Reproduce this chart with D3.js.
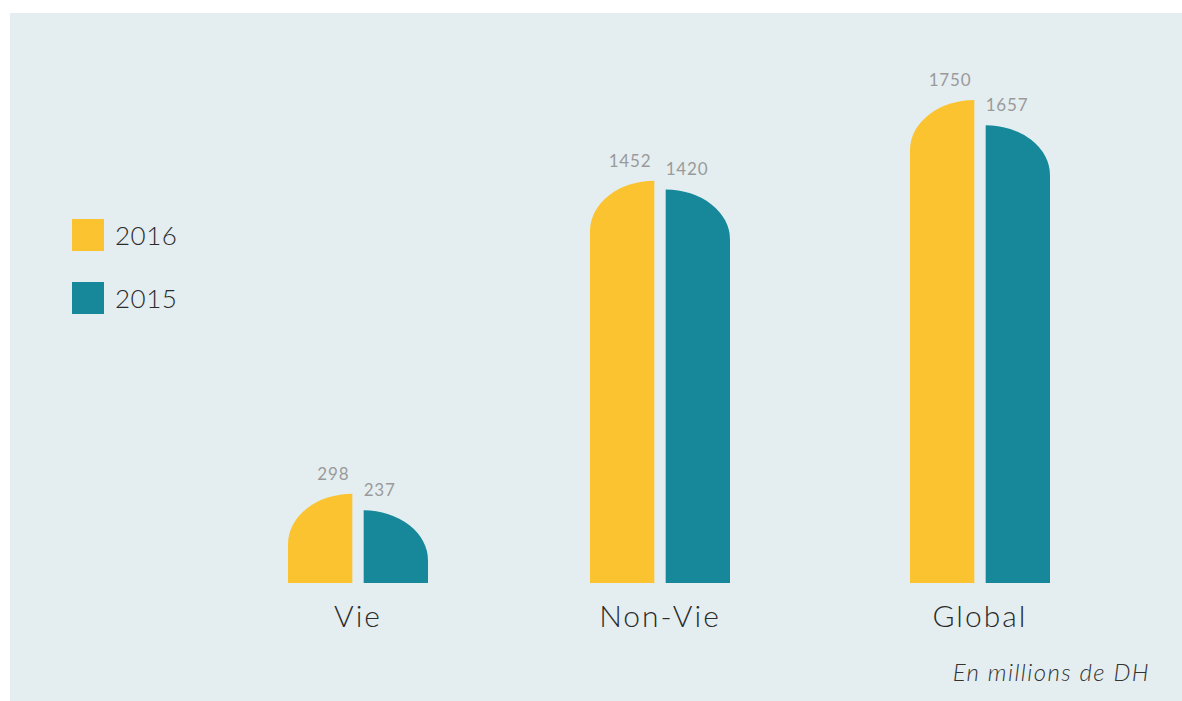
<!DOCTYPE html>
<html lang="fr">
<head>
  <meta charset="UTF-8">
  <style>
body {
    margin: 0;
    background: #fff;
    font-family: Lato, "Open Sans", sans-serif;
}

.panel {
    fill: #e4eef0;
}

.value-label {
    fill: #9a9a9a;
    font-size: 17px;
    font-weight: 400;
    letter-spacing: 0.8px;
}

.cat-label {
    fill: #2b2b2b;
    font-size: 30px;
    font-weight: 300;
    letter-spacing: 2px;
    text-anchor: middle;
}

.legend-text {
    fill: #2b2b2b;
    font-size: 26px;
    font-weight: 300;
    letter-spacing: 0.5px;
}

.note {
    fill: #333;
    font-size: 24px;
    font-style: italic;
    font-weight: 300;
    letter-spacing: 1.4px;
    text-anchor: end;
}
  </style>
  <title>Vie / Non-Vie</title>
</head>
<body>
<div id="wrapper"></div>

<script src="https://cdnjs.cloudflare.com/ajax/libs/d3/7.8.5/d3.min.js"></script>
<script>
// DATA
const categories = ['Vie', 'Non-Vie', 'Global']
const years = ['2016', '2015']
const values2016 = [298, 1452, 1750]
const values2015 = [237, 1420, 1657]
const colors = ['#fcc330', '#168899']

const width = 1182
const height = 701
const baseline = 583

const svg = d3.select('#wrapper')
  .append('svg')
  .attr('width', width)
  .attr('height', height)

svg.append('rect')
  .attr('class', 'panel')
  .attr('x', 10)
  .attr('y', 13)
  .attr('width', width - 10)
  .attr('height', height - 13)

// SCALES
// group centres are not evenly spaced in the original
const x = d3.scaleOrdinal()
  .domain(categories)
  .range([358, 660, 980])

const xInner = d3.scaleBand()
  .domain(years)
  .range([-70, 70])
  .paddingInner(0.15)

const y = d3.scaleLinear()
  .domain([-31, 1750])
  .range([baseline, 100])

const color = d3.scaleOrdinal().domain(years).range(colors)

const rows = []
categories.forEach((c, i) => {
  rows.push({cat: c, year: '2016', value: values2016[i]})
  rows.push({cat: c, year: '2015', value: values2015[i]})
})

// bar with one rounded top corner (quarter ellipse)
function barPath(d) {
  const x0 = x(d.cat) + xInner(d.year)
  const w = xInner.bandwidth()
  const x1 = x0 + w
  const yt = y(d.value)
  const r = Math.min(50, baseline - yt)
  if (d.year === '2016') {
    return `M${x0},${baseline} L${x0},${yt + r} A${w},${r} 0 0 1 ${x1},${yt} L${x1},${baseline} Z`
  }
  return `M${x0},${baseline} L${x0},${yt} A${w},${r} 0 0 1 ${x1},${yt + r} L${x1},${baseline} Z`
}

const bars = svg.append('g')

bars.selectAll('path')
  .data(rows)
  .join('path')
    .attr('d', barPath)
    .attr('fill', d => color(d.year))

bars.selectAll('text')
  .data(rows)
  .join('text')
    .attr('class', 'value-label')
    .attr('x', d => d.year === '2016'
      ? x(d.cat) + xInner(d.year) + xInner.bandwidth() - 3
      : x(d.cat) + xInner(d.year))
    .attr('y', d => y(d.value) - 14)
    .attr('text-anchor', d => d.year === '2016' ? 'end' : 'start')
    .text(d => d.value)

svg.append('g')
  .selectAll('text')
  .data(categories)
  .join('text')
    .attr('class', 'cat-label')
    .attr('x', d => x(d))
    .attr('y', 627)
    .text(d => d)

// LEGEND
const legend = svg.append('g')
  .selectAll('g')
  .data(years)
  .join('g')
    .attr('transform', (d, i) => `translate(72, ${219 + i * 63})`)

legend.append('rect')
  .attr('width', 32)
  .attr('height', 32)
  .attr('fill', d => color(d))

legend.append('text')
  .attr('class', 'legend-text')
  .attr('x', 43)
  .attr('y', 26)
  .text(d => d)

svg.append('text')
  .attr('class', 'note')
  .attr('x', 1150)
  .attr('y', 681)
  .text('En millions de DH')
</script>
</body>
</html>
